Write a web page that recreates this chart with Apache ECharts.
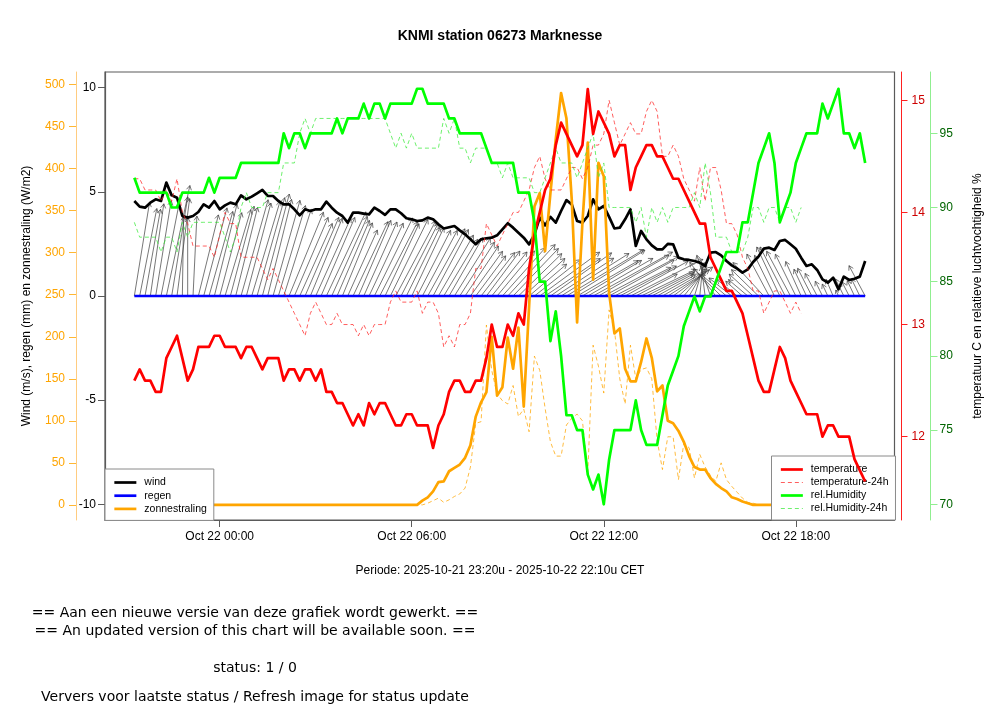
<!DOCTYPE html>
<html>
<head>
<meta charset="utf-8">
<script src="https://cdn.jsdelivr.net/npm/echarts@6.0.0/dist/echarts.min.js"></script>
<style>
html,body{margin:0;padding:0;background:#fff;}
#c{width:1000px;height:720px;}
</style>
</head>
<body>
<div id="c"></div>
<script>
// ---- sampling (axis clock): first sample 2025-10-21 21:20, minutes relative to Oct 22 00:00, every 10 minutes
const START_MIN = -160;
const STEP_MIN = 10;

// ---- tick labels
const xTickValues = [0, 360, 720, 1080];
const xTickDay = 'Oct 22';
const yWindTicks = [-10, -5, 0, 5, 10];
const ySunTicks = [0, 50, 100, 150, 200, 250, 300, 350, 400, 450, 500];
const yTempTicks = [12, 13, 14, 15];
const yHumTicks = [70, 75, 80, 85, 90, 95];

// ---- series values
const wind = [4.56,4.29,4.24,4.48,4.64,4.56,5.44,4.83,4.72,3.84,
  3.76,3.84,4.03,4.40,4.24,4.56,4.16,4.35,4.48,4.40,
  4.83,4.64,4.77,4.93,5.09,4.80,4.80,4.56,4.40,4.40,
  4.16,3.87,4.16,4.08,4.16,4.16,4.53,4.24,4.00,3.84,
  3.52,4.00,4.00,3.95,3.92,4.24,4.08,3.89,4.16,4.16,
  3.97,3.73,3.68,3.60,3.63,3.76,3.68,3.44,3.24,3.30,
  3.36,3.15,2.96,2.72,2.48,2.72,2.77,2.80,2.91,3.20,
  3.49,3.28,3.04,2.80,2.48,2.96,3.76,3.39,3.80,3.52,
  4.08,4.60,4.40,3.60,3.52,3.84,4.64,4.16,4.32,3.80,
  3.24,3.28,3.68,4.16,2.40,3.12,2.72,2.43,2.24,2.24,
  2.50,2.48,1.84,1.76,1.73,1.68,1.60,1.44,2.08,2.11,
  1.95,1.68,1.47,1.31,1.12,1.28,1.63,1.89,2.27,2.32,
  2.21,2.64,2.69,2.48,2.27,1.84,1.44,1.52,1.25,0.80,
  0.64,0.88,0.32,0.93,0.77,0.83,0.93,1.68];

// wind direction (degrees, where the wind comes from), read from the arrows
const windDir = [190,192,191,189,190,192,193,190,188,
  181,180,183,
  195,196,197,195,196,198,196,195,197,196,198,197,196,195,197,198,199,
  204,205,206,205,204,206,205,207,206,205,204,206,207,205,206,207,
  208,209,207,208,210,209,208,207,209,210,211,210,212,213,212,214,215,
  216,218,219,220,219,221,222,
  224,225,226,228,230,232,
  234,236,238,237,239,240,241,240,242,241,
  242,243,242,244,243,245,244,243,245,244,246,245,244,243,242,240,
  236,230,222,212,
  198,186,172,160,
  140,132,128,126,127,129,128,130,132,135,
  150,152,153,151,150,152,154,153,151,150,152,153,155,154,152,151,153,152,150];

const regen = [0,0,0,0,0,0,0,0,0,0, 0,0,0,0,0,0,0,0,0,0, 0,0,0,0,0,0,0,0,0,0,
  0,0,0,0,0,0,0,0,0,0, 0,0,0,0,0,0,0,0,0,0, 0,0,0,0,0,0,0,0,0,0,
  0,0,0,0,0,0,0,0,0,0, 0,0,0,0,0,0,0,0,0,0, 0,0,0,0,0,0,0,0,0,0,
  0,0,0,0,0,0,0,0,0,0, 0,0,0,0,0,0,0,0,0,0, 0,0,0,0,0,0,0,0,0,0,
  0,0,0,0,0,0,0,0,0,0, 0,0,0,0,0,0,0,0];

const zonnestraling = [0,0,0,0,0,0,0,0,0,0, 0,0,0,0,0,0,0,0,0,0, 0,0,0,0,0,0,0,0,0,0,
  0,0,0,0,0,0,0,0,0,0, 0,0,0,0,0,0,0,0,0,0, 0,0,0,0,
  5,9,16,27,28,40,44,48,56,71,
  105,122,134,200,130,140,199,162,211,117,
  236,355,371,302,371,435,490,460,363,217,
  336,431,268,407,391,252,204,210,162,147,
  147,170,198,175,135,142,100,97,88,75,
  58,45,42,42,32,25,20,16,9,7,
  4,2,
  0,0,0,0,0,0,0,0,0,0, 0,0,0,0,0,0,0,0,0,0, 0,0];

const zonnestraling24h = [0,0,0,0,0,0,0,0,0,0, 0,0,0,0,0,0,0,0,0,0, 0,0,0,0,0,0,0,0,0,0,
  0,0,0,0,0,0,0,0,0,0, 0,0,0,0,0,0,0,0,0,0, 0,0,0,0,0,
  2,5,8,3,6,10,13,20,45,97,
  99,214,160,132,124,120,142,105,114,87,
  177,160,115,75,58,58,95,103,108,100,
  38,190,165,133,232,208,150,120,190,150,
  161,163,150,77,42,81,81,30,73,68,
  32,60,45,35,28,50,30,22,15,8,
  3,2,
  0,0,0,0,0,0,0,0,0];

const temperature = [12.5,12.6,12.5,12.5,12.4,12.4,12.7,12.8,12.9,12.7,
  12.5,12.6,12.8,12.8,12.8,12.9,12.9,12.8,12.8,12.8,
  12.7,12.8,12.8,12.7,12.6,12.7,12.7,12.7,12.5,12.6,
  12.6,12.5,12.6,12.6,12.5,12.6,12.4,12.4,12.3,12.3,
  12.2,12.1,12.2,12.1,12.3,12.2,12.3,12.3,12.2,12.1,
  12.1,12.2,12.2,12.1,12.1,12.1,11.9,12.1,12.2,12.4,
  12.5,12.5,12.4,12.4,12.5,12.5,12.7,13.0,12.8,12.8,
  13.0,12.9,13.1,13.0,13.5,13.8,14.0,14.2,14.3,14.6,
  14.8,14.7,14.6,14.5,14.6,15.1,14.7,14.9,14.8,14.7,
  14.5,14.6,14.6,14.2,14.4,14.5,14.6,14.6,14.5,14.5,
  14.4,14.3,14.3,14.2,14.1,14.0,13.9,13.9,13.6,13.5,
  13.4,13.3,13.3,13.2,13.1,12.9,12.7,12.5,12.4,12.4,
  12.6,12.8,12.7,12.5,12.4,12.3,12.2,12.2,12.2,12.0,
  12.1,12.1,12.0,12.0,12.0,11.8,11.7,11.6];

const temperature24h = [14.3,14.3,14.2,14.2,14.2,14.1,14.2,14.1,14.3,14.0,
  13.9,13.7,13.7,13.7,13.7,13.6,13.8,14.0,13.9,13.9,
  13.6,13.6,13.6,13.6,13.5,13.4,13.5,13.4,13.3,13.2,
  13.1,13.0,12.9,13.1,13.2,13.1,13.0,13.0,13.1,13.0,
  13.0,13.0,12.9,13.0,12.9,13.0,13.0,13.0,13.2,13.3,
  13.2,13.2,13.2,13.3,13.1,13.2,13.2,13.1,12.8,12.9,
  12.8,13.0,13.0,13.1,13.5,13.5,13.9,13.8,13.7,13.8,
  13.9,14.0,14.0,14.1,14.2,14.4,14.5,14.3,14.2,14.2,
  14.2,14.3,14.4,14.4,14.3,14.4,14.6,14.6,14.7,15.0,
  14.8,14.6,14.7,14.8,14.7,14.7,14.9,15.0,14.9,14.5,
  14.5,14.6,14.5,14.3,14.2,14.1,14.4,14.1,14.4,14.4,
  14.2,13.9,13.9,13.8,13.6,13.5,13.3,13.3,13.1,13.2,
  13.3,13.3,13.2,13.1,13.2,13.1];

const humidity = [92,91,91,91,91,91,91,90,90,91,
  91,91,91,91,92,91,92,92,92,92,
  93,93,93,93,93,93,93,93,95,94,
  95,95,94,95,95,95,95,95,96,95,
  96,96,96,97,96,97,97,96,97,97,
  97,97,97,98,98,97,97,97,97,96,
  96,95,95,95,95,95,94,93,93,93,
  93,93,91,91,91,89,85,85,81,83,
  80,76,76,75,75,72,71,72,70,73,
  75,75,75,75,77,75,74,74,74,76,
  78,79,80,82,83,84,83,84,84,85,
  86,87,87,87,89,89,91,93,94,95,
  93,89,90,91,93,94,95,95,95,97,
  96,97,98,95,95,94,95,93];

const humidity24h = [89,88,88,88,88,87,88,88,87,89,
  88,89,89,89,89,89,89,88,87,88,
  90,91,90,90,90,91,91,91,93,93,
  93,95,96,95,96,96,96,96,96,96,
  96,96,96,96,96,96,96,96,95,94,
  95,94,95,94,94,94,94,94,96,95,
  96,94,94,93,94,94,94,93,93,92,
  93,92,92,92,92,91,91,92,93,94,
  93,93,93,92,93,94,95,92,93,90,
  90,90,90,90,89,90,88,90,89,90,
  89,90,90,90,90,91,90,93,91,88,
  88,88,87,87,87,88,90,90,89,90,
  90,89,90,90,89,90];

// ---- build chart data from the arrays
function tAt(i){ return START_MIN + STEP_MIN * i; }
function pairs(arr){ return arr.map(function(v, i){ return [tAt(i), v]; }); }

// arrow: from (t, 0) along the wind vector; x-stretch in minutes per m/s
const ARROW_MIN_PER_MS = 36;
const arrowData = wind.map(function(s, i){
  const th = (windDir[i] - 180) * Math.PI / 180;
  return [tAt(i), tAt(i) + s * Math.sin(th) * ARROW_MIN_PER_MS, s * Math.cos(th)];
});

function pad2(n){ return (n < 10 ? '0' : '') + n; }

const FONT = '"Liberation Sans", Arial, Helvetica, sans-serif';

const COL = {
  wind: '#000000', regen: '#0000FF', zon: '#FFA500', zon24: 'rgba(255,165,0,0.75)',
  temp: '#FF0000', temp24: 'rgba(255,40,40,0.75)', hum: '#00FF00', hum24: 'rgba(60,235,60,0.75)'
};

const chart = echarts.init(document.getElementById('c'), null, {renderer: 'canvas'});

function lineSeries(name, data, yIdx, color, width, dashed, z){
  return {
    name: name, type: 'line', xAxisIndex: 0, yAxisIndex: yIdx,
    data: data, symbol: 'none', showSymbol: false, silent: true,
    animation: false, z: z,
    itemStyle: {color: color},
    lineStyle: {color: color, width: width, type: dashed ? [4, 3] : 'solid', cap: 'butt', join: 'round'},
    emphasis: {disabled: true}
  };
}

function legendItem(name, color, width, dashed){
  return {name: name, lineStyle: {color: color, width: width, type: dashed ? [4, 3] : 'solid'}};
}

const legendCommon = {
  orient: 'vertical',
  itemWidth: 22, itemHeight: 11,
  padding: [8, 7, 6, 8],
  backgroundColor: '#ffffff', borderColor: '#8a8a8a', borderWidth: 1, borderRadius: 0,
  selectedMode: false,
  itemStyle: {opacity: 0, borderWidth: 0},
  textStyle: {fontSize: 10.5, color: '#000', fontFamily: FONT, padding: [0, 0, 0, 3]}
};

const option = {
  animation: false,
  backgroundColor: '#ffffff',
  textStyle: {fontFamily: FONT},
  title: {
    text: 'KNMI station 06273 Marknesse',
    left: 'center', top: 29, padding: 0,
    textStyle: {fontSize: 14, fontWeight: 'bold', color: '#000', fontFamily: FONT}
  },
  grid: {
    left: 105, right: 105.5, top: 72, bottom: 200,
    show: true, borderColor: '#5a5a5a', borderWidth: 1.2, backgroundColor: 'transparent',
    containLabel: false, outerBoundsMode: 'none'
  },
  xAxis: {
    type: 'value', min: -215, max: 1265, position: 'bottom',
    axisLine: {show: true, onZero: false, lineStyle: {color: '#5a5a5a', width: 1.2}},
    splitLine: {show: false},
    axisTick: {show: true, customValues: xTickValues, length: 7, lineStyle: {color: '#5a5a5a'}},
    axisLabel: {
      customValues: xTickValues, margin: 11, fontSize: 12, color: '#000', fontFamily: FONT,
      formatter: function(v){ return xTickDay + ' ' + pad2(Math.floor(v / 60)) + ':' + pad2(v % 60); }
    }
  },
  yAxis: [
    {
      type: 'value', min: -10.75, max: 10.75, position: 'left', offset: 0,
      axisLine: {show: true, onZero: false, lineStyle: {color: '#5a5a5a', width: 1.2}},
      axisTick: {show: true, customValues: yWindTicks, length: 7, lineStyle: {color: '#5a5a5a'}},
      axisLabel: {customValues: yWindTicks, margin: 9, fontSize: 12, color: '#000', fontFamily: FONT},
      splitLine: {show: false}
    },
    {
      type: 'value', min: -18, max: 515, position: 'left', offset: 29,
      axisLine: {show: true, onZero: false, lineStyle: {color: '#FFCC80', width: 1}},
      axisTick: {show: true, customValues: ySunTicks, length: 7, lineStyle: {color: '#FFB733'}},
      axisLabel: {customValues: ySunTicks, margin: 11, fontSize: 12, color: '#FFA500', fontFamily: FONT},
      splitLine: {show: false},
      name: 'Wind (m/s), regen (mm) en zonnestraling (W/m2)',
      nameLocation: 'middle', nameGap: 43, nameRotate: 90,
      nameTextStyle: {color: '#000', fontSize: 12, fontFamily: FONT}
    },
    {
      type: 'value', min: 11.257, max: 15.252, position: 'right', offset: 7,
      axisLine: {show: true, onZero: false, lineStyle: {color: '#FF2020', width: 1}},
      axisTick: {show: true, customValues: yTempTicks, length: 6, lineStyle: {color: '#FF2020'}},
      axisLabel: {customValues: yTempTicks, margin: 10, fontSize: 12, color: '#CD0000', fontFamily: FONT},
      splitLine: {show: false}
    },
    {
      type: 'value', min: 68.94, max: 99.13, position: 'right', offset: 36,
      axisLine: {show: true, onZero: false, lineStyle: {color: '#90EE90', width: 1}},
      axisTick: {show: true, customValues: yHumTicks, length: 7, lineStyle: {color: '#90EE90'}},
      axisLabel: {customValues: yHumTicks, margin: 9, fontSize: 12, color: '#006400', fontFamily: FONT},
      splitLine: {show: false},
      name: 'temperatuur C en relatieve luchtvochtigheid %',
      nameLocation: 'middle', nameGap: 41, nameRotate: 90,
      nameTextStyle: {color: '#000', fontSize: 12, fontFamily: FONT}
    }
  ],
  legend: [
    Object.assign({}, legendCommon, {
      data: [legendItem('wind', COL.wind, 2.7, false),
             legendItem('regen', COL.regen, 2.7, false),
             legendItem('zonnestraling', COL.zon, 2.7, false)],
      left: 105, top: 469, itemGap: 2.2
    }),
    Object.assign({}, legendCommon, {
      data: [legendItem('temperature', COL.temp, 2.7, false),
             legendItem('temperature-24h', COL.temp24, 1, true),
             legendItem('rel.Humidity', COL.hum, 2.7, false),
             legendItem('rel.Humidity-24h', COL.hum24, 1, true)],
      left: 771.5, top: 456, itemGap: 2.0
    })
  ],
  series: [
    {
      name: 'windpijlen', type: 'custom', xAxisIndex: 0, yAxisIndex: 0,
      data: arrowData, encode: {x: [0, 1], y: 2}, silent: true, animation: false, z: 1,
      renderItem: function(params, api){
        const p0 = api.coord([api.value(0), 0]);
        const p1 = api.coord([api.value(1), api.value(2)]);
        const dx = p1[0] - p0[0], dy = p1[1] - p0[1];
        const len = Math.sqrt(dx * dx + dy * dy);
        if (len < 0.5) return null;
        const ang = Math.atan2(dy, dx);
        const h = Math.min(5, len * 0.6), a = Math.PI / 6;
        const l1 = [p1[0] - h * Math.cos(ang - a), p1[1] - h * Math.sin(ang - a)];
        const l2 = [p1[0] - h * Math.cos(ang + a), p1[1] - h * Math.sin(ang + a)];
        return {
          type: 'group',
          children: [
            {type: 'line', shape: {x1: p0[0], y1: p0[1], x2: p1[0], y2: p1[1]},
             style: {stroke: '#3c3c3c', lineWidth: 0.7, fill: null}},
            {type: 'polyline', shape: {points: [l1, p1, l2]},
             style: {stroke: '#3c3c3c', lineWidth: 0.7, fill: null}}
          ]
        };
      }
    },
    lineSeries('wind', pairs(wind), 0, COL.wind, 2.7, false, 3),
    lineSeries('regen', pairs(regen), 0, COL.regen, 2.7, false, 3),
    lineSeries('zonnestraling-24h', pairs(zonnestraling24h), 1, COL.zon24, 1, true, 3),
    lineSeries('zonnestraling', pairs(zonnestraling), 1, COL.zon, 2.7, false, 3),
    lineSeries('temperature-24h', pairs(temperature24h), 2, COL.temp24, 1, true, 4),
    lineSeries('rel.Humidity-24h', pairs(humidity24h), 3, COL.hum24, 1, true, 4),
    lineSeries('temperature', pairs(temperature), 2, COL.temp, 2.7, false, 4),
    lineSeries('rel.Humidity', pairs(humidity), 3, COL.hum, 2.7, false, 4)
  ],
  graphic: [
    {type: 'text', x: 500, y: 571, silent: true,
     style: {text: 'Periode: 2025-10-21 23:20u - 2025-10-22 22:10u CET', fill: '#000',
             font: '12px "Liberation Sans", Arial, sans-serif',
             textAlign: 'center', textVerticalAlign: 'middle', align: 'center', verticalAlign: 'middle'}},
    {type: 'text', x: 255, y: 613, silent: true,
     style: {text: '== Aan een nieuwe versie van deze grafiek wordt gewerkt. ==', fill: '#000',
             font: '14px "DejaVu Sans", sans-serif',
             textAlign: 'center', textVerticalAlign: 'middle', align: 'center', verticalAlign: 'middle'}},
    {type: 'text', x: 255, y: 631, silent: true,
     style: {text: '== An updated version of this chart will be available soon. ==', fill: '#000',
             font: '14px "DejaVu Sans", sans-serif',
             textAlign: 'center', textVerticalAlign: 'middle', align: 'center', verticalAlign: 'middle'}},
    {type: 'text', x: 255, y: 668, silent: true,
     style: {text: 'status: 1 / 0', fill: '#000',
             font: '14px "DejaVu Sans", sans-serif',
             textAlign: 'center', textVerticalAlign: 'middle', align: 'center', verticalAlign: 'middle'}},
    {type: 'text', x: 255, y: 697, silent: true,
     style: {text: 'Ververs voor laatste status / Refresh image for status update', fill: '#000',
             font: '14px "DejaVu Sans", sans-serif',
             textAlign: 'center', textVerticalAlign: 'middle', align: 'center', verticalAlign: 'middle'}}
  ]
};

chart.setOption(option);
</script>
</body>
</html>
